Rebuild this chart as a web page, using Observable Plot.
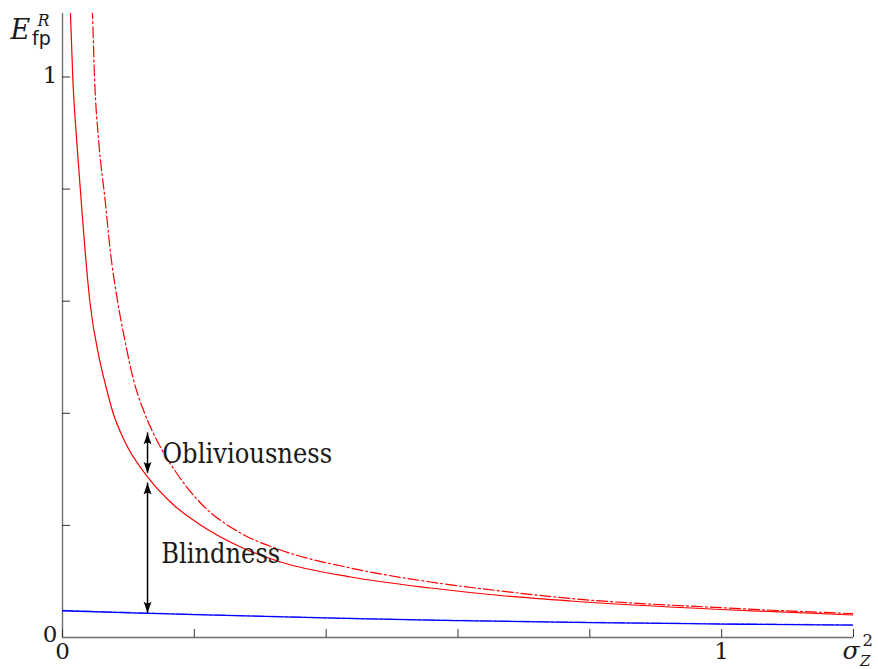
<!DOCTYPE html>
<html><head><meta charset="utf-8">
<script src="https://cdn.jsdelivr.net/npm/d3@7"></script>
<script src="https://cdn.jsdelivr.net/npm/@observablehq/plot@0.6"></script>
<style>body{margin:0;background:#fff}
.serif text{font-family:"DejaVu Serif"} .sans text{font-family:"DejaVu Sans"}
</style>
</head><body><div id="chart"></div>
<script>
// ---- data ----
const redSolidX = [0.0091, 0.0121, 0.0156, 0.0216, 0.0284, 0.0343, 0.0414, 0.0554, 0.0653, 0.0769, 0.0941, 0.1300, 0.1669, 0.2094, 0.2701, 0.3308, 0.4370, 0.5584, 0.6646, 0.7709, 0.9985, 1.2];
const redSolidY = [1.243, 1.1124, 0.9991, 0.8858, 0.7788, 0.6896, 0.6004, 0.5004, 0.4505, 0.4000, 0.3506, 0.2851, 0.2382, 0.2007, 0.1615, 0.1347, 0.1079, 0.0883, 0.0749, 0.0651, 0.0500, 0.0401];
const redDashX = [0.0422, 0.0455, 0.0486, 0.0549, 0.0648, 0.0725, 0.0835, 0.0948, 0.1082, 0.1244, 0.1437, 0.1730, 0.2094, 0.2701, 0.3308, 0.4370, 0.5584, 0.6646, 0.7709, 0.9985, 1.2];
const redDashY = [1.225, 1.1124, 0.9991, 0.8858, 0.7788, 0.6896, 0.6004, 0.5290, 0.4576, 0.4005, 0.3506, 0.2935, 0.2400, 0.1864, 0.1561, 0.1240, 0.0990, 0.0830, 0.0696, 0.0532, 0.0425];
const blueX = [0, 0.129, 0.2, 0.444, 0.6, 0.8, 1.0, 1.2];
const blueSolidY = [0.0477, 0.0432, 0.0408, 0.0335, 0.0300, 0.0266, 0.0240, 0.0220];
const blueDashY = [0.0482, 0.0437, 0.0413, 0.0340, 0.0305, 0.0271, 0.0245, 0.0225];
const xTicks = [0, 0.2, 0.4, 0.6, 0.8, 1.0, 1.2];
const yTicks = [0.2, 0.4, 0.6, 0.8, 1.0];
const xTickLabels = [{v: 0, t: "0"}, {v: 1, t: "1"}];
const arrowX = 0.129;
const obliviousness = [0.293, 0.365];
const blindness = [0.0435, 0.2755];
const notes = [{x: 0.1513, y: 0.3107, t: "Obliviousness", w: 170}, {x: 0.1498, y: 0.1332, t: "Blindness", w: 119}];

const toRows = (xs, ys) => xs.map((x, i) => ({x, y: ys[i]}));
const redSolid = toRows(redSolidX, redSolidY);
const redDash = toRows(redDashX, redDashY);
const blueSolid = toRows(blueX, blueSolidY);
const blueDash = toRows(blueX, blueDashY);

const W = 878, H = 669, mL = 62, mR = 25, mT = 13, mB = 32;
const innerW = W - mL - mR, innerH = H - mT - mB;

const headUp = {draw(ctx) { ctx.moveTo(0, 0); ctx.lineTo(4, 11.5); ctx.quadraticCurveTo(0, 7.8, -4, 11.5); ctx.closePath(); }};
const headDown = {draw(ctx) { ctx.moveTo(0, 0); ctx.lineTo(4, -11.5); ctx.quadraticCurveTo(0, -7.8, -4, -11.5); ctx.closePath(); }};

const axisColor = "#6f6f6f";
const ink = "#1a1a1a";
const S = {className: "serif"};

const plot = Plot.plot({
  width: W, height: H,
  marginLeft: mL, marginRight: mR, marginTop: mT, marginBottom: mB,
  x: {domain: [0, 1.2], axis: null},
  y: {domain: [0, innerH / 560.5], axis: null},
  style: {background: "#fff", overflow: "visible"},
  marks: [
    Plot.ruleY([0], {stroke: axisColor, strokeWidth: 1.4}),
    Plot.ruleX([0], {stroke: axisColor, strokeWidth: 1.4}),
    Plot.tickX(xTicks, {x: d => d, insetTop: innerH - 8, stroke: "#333", strokeWidth: 1}),
    Plot.tickY(yTicks, {y: d => d, insetRight: innerW - 8, stroke: "#333", strokeWidth: 1}),
    Plot.line(blueDash, {x: "x", y: "y", stroke: "#7f7fff", strokeWidth: 1.3, strokeDasharray: "11,3,2,3", curve: "monotone-x", clip: true}),
    Plot.line(blueSolid, {x: "x", y: "y", stroke: "#0000ff", strokeWidth: 1.3, curve: "monotone-x", clip: true}),
    Plot.line(redSolid, {x: "x", y: "y", stroke: "#ff0000", strokeWidth: 1.2, curve: "monotone-x", clip: true}),
    Plot.line(redDash, {x: "x", y: "y", stroke: "#ff0000", strokeWidth: 1.2, strokeDasharray: "11,3,2,3", curve: "monotone-x", clip: true}),
    Plot.ruleX([arrowX], {y1: obliviousness[0], y2: obliviousness[1], stroke: "#000", strokeWidth: 1.5}),
    Plot.ruleX([arrowX], {y1: blindness[0], y2: blindness[1], stroke: "#000", strokeWidth: 1.5}),
    Plot.dot([obliviousness[1], blindness[1]], {x: () => arrowX, y: d => d, symbol: headUp, fill: "#000", stroke: "none"}),
    Plot.dot([obliviousness[0], blindness[0]], {x: () => arrowX, y: d => d, symbol: headDown, fill: "#000", stroke: "none"}),
    Plot.text(notes, {x: "x", y: "y", text: "t", textAnchor: "start", lineAnchor: "bottom", fontSize: 27, fill: ink, ...S}),
    Plot.text(xTickLabels, {x: "v", y: () => 0, text: "t", textAnchor: "middle", lineAnchor: "bottom", dy: 21.5, fontSize: 23, fill: ink, ...S}),
    Plot.text(["0"], {x: () => 0, y: () => 0, text: d => d, textAnchor: "end", lineAnchor: "bottom", dx: -5, dy: 4, fontSize: 23, fill: ink, ...S}),
    Plot.text(["1"], {x: () => 0, y: () => 1, text: d => d, textAnchor: "end", lineAnchor: "bottom", dx: -5, dy: 6, fontSize: 23, fill: ink, ...S}),
    // y-axis title  E^R_fp
    Plot.text(["E"], {frameAnchor: "top-left", text: d => d, textAnchor: "start", lineAnchor: "bottom", dx: 10 - mL, dy: 38 - mT, fontSize: 27, fontStyle: "italic", fill: ink, ...S}),
    Plot.text(["R"], {frameAnchor: "top-left", text: d => d, textAnchor: "start", lineAnchor: "bottom", dx: 37 - mL, dy: 25 - mT, fontSize: 16, fontStyle: "italic", fill: ink, ...S}),
    Plot.text(["fp"], {frameAnchor: "top-left", text: d => d, textAnchor: "start", lineAnchor: "bottom", dx: 31.5 - mL, dy: 44 - mT, fontSize: 19, fill: ink, className: "sans"}),
    // x-axis title  sigma^2_Z
    Plot.text(["σ"], {frameAnchor: "bottom-right", text: d => d, textAnchor: "middle", lineAnchor: "bottom", dx: -2.5, dy: 21.5, fontSize: 25, fontStyle: "italic", fill: ink, ...S}),
    Plot.text(["2"], {frameAnchor: "bottom-right", text: d => d, textAnchor: "start", lineAnchor: "bottom", dx: 9, dy: 8.5, fontSize: 16.5, fill: ink, ...S}),
    Plot.text(["Z"], {frameAnchor: "bottom-right", text: d => d, textAnchor: "start", lineAnchor: "bottom", dx: 6.5, dy: 28.5, fontSize: 15, fontStyle: "italic", fill: ink, ...S})
  ]
});
// fit the annotation widths to the reference
d3.select(plot).selectAll("text").each(function() {
  const n = notes.find(d => d.t === this.textContent);
  if (n) { this.setAttribute("textLength", n.w); this.setAttribute("lengthAdjust", "spacingAndGlyphs"); }
});
document.getElementById("chart").appendChild(plot);
</script>
</body></html>
